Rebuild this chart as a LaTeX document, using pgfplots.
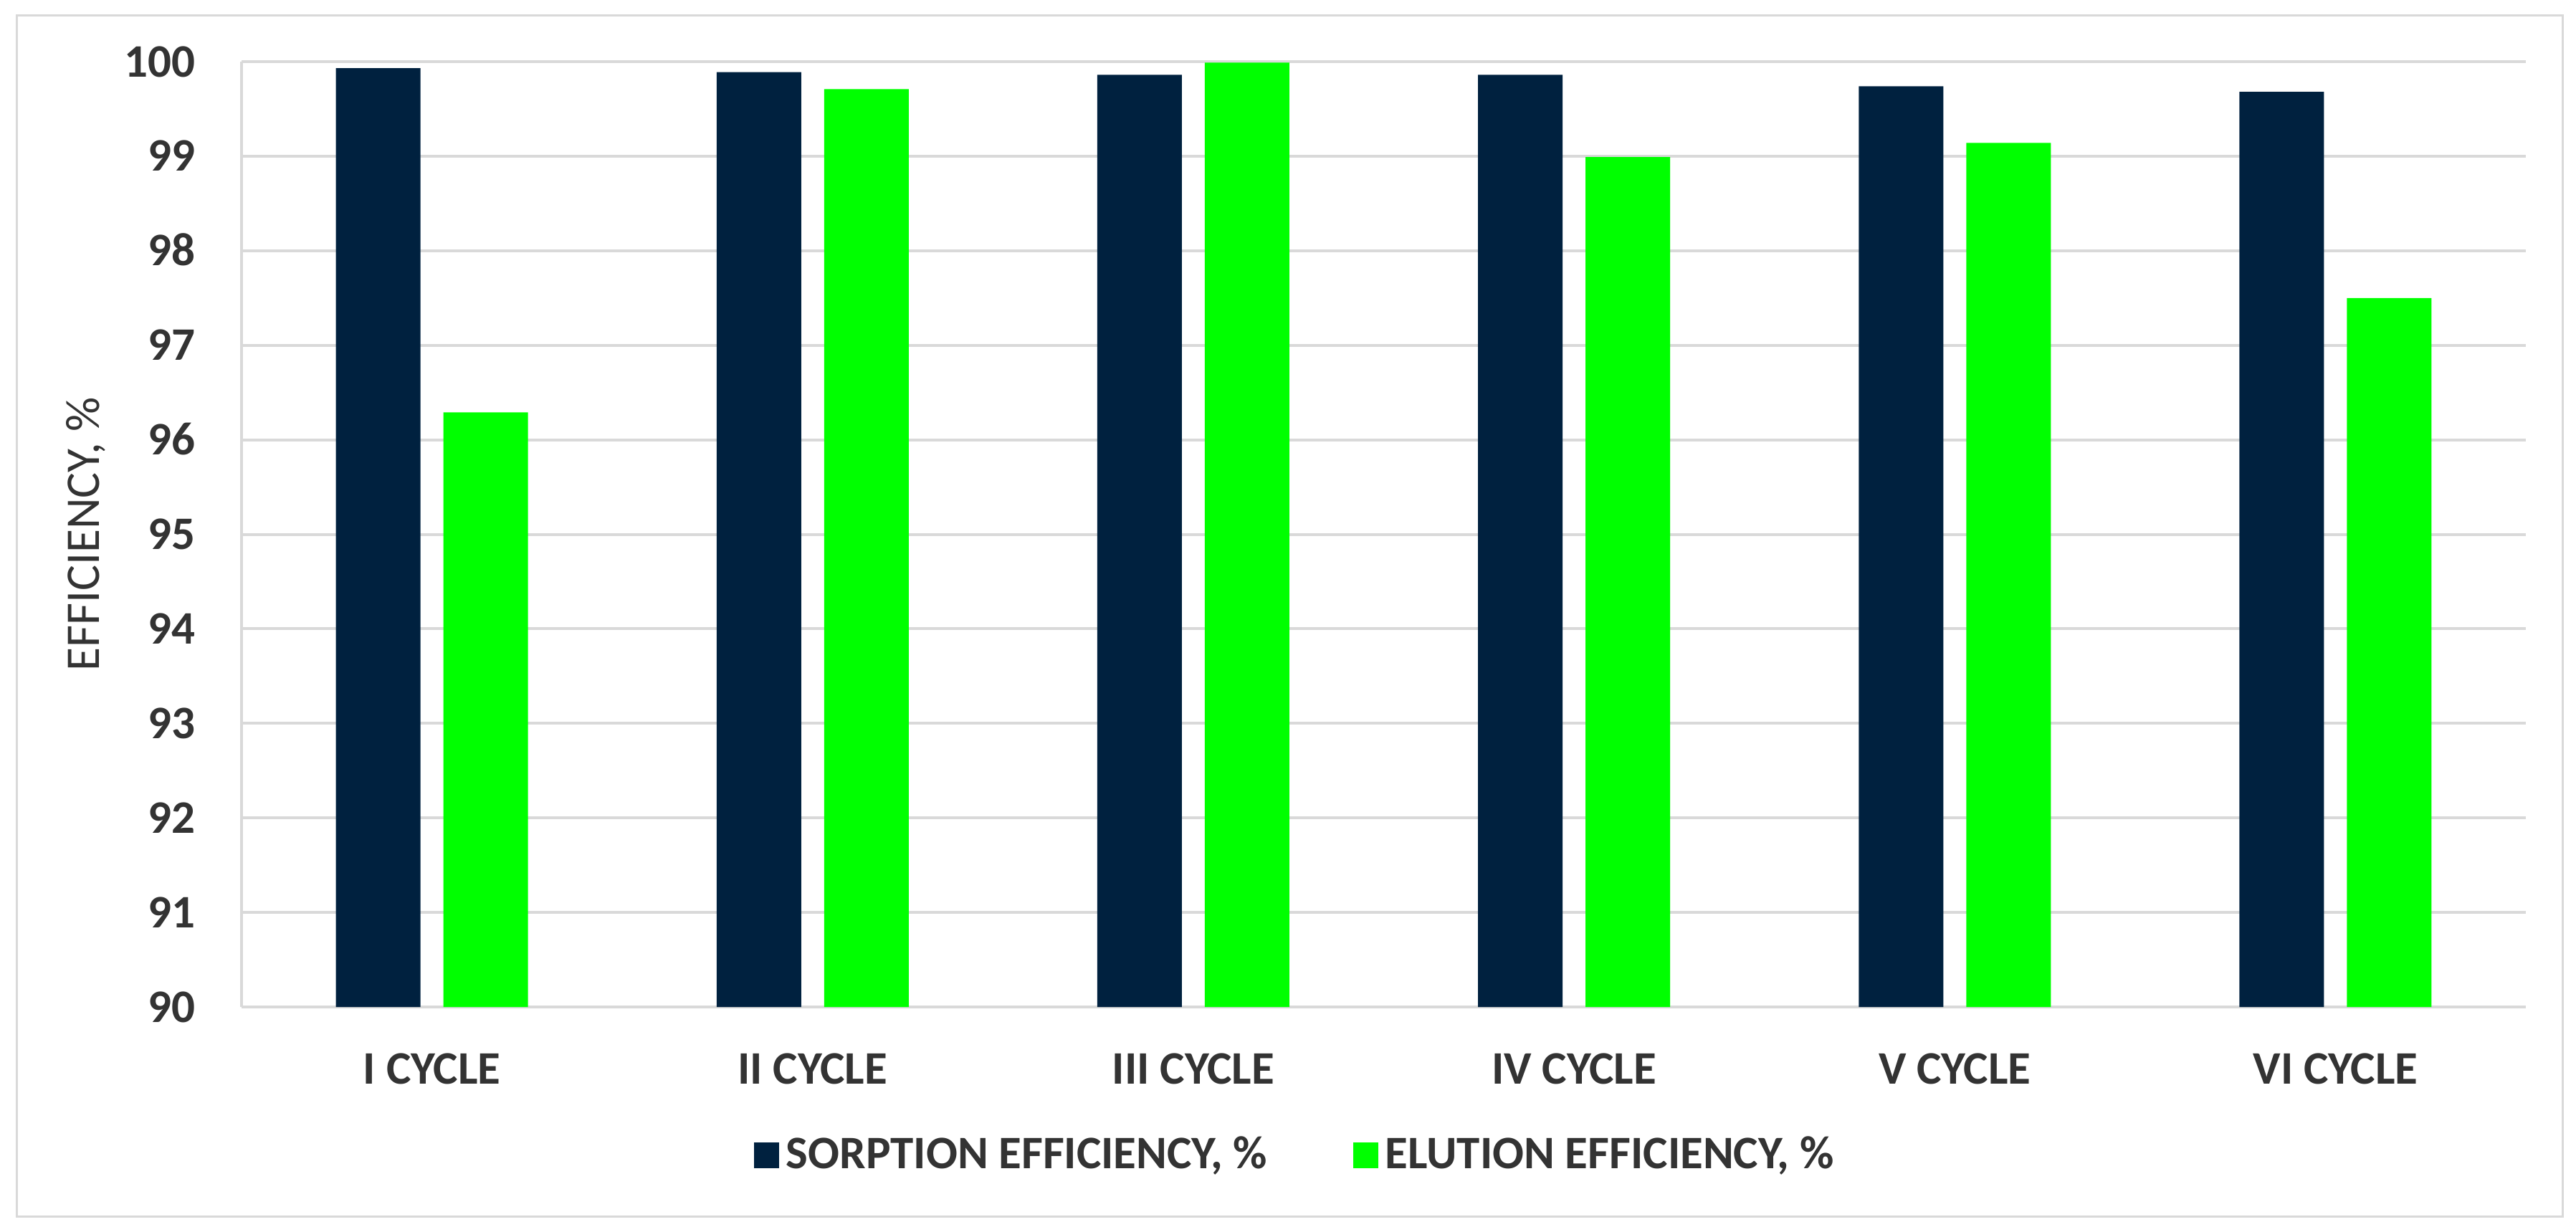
\documentclass[border=0pt]{standalone}
\usepackage{fontspec}
\setmainfont{Carlito}
\usepackage{pgfplots}
\pgfplotsset{compat=1.18}

\definecolor{sorp}{HTML}{00213F}
\definecolor{elut}{HTML}{00FF00}
\definecolor{gridc}{HTML}{D9D9D9}
\definecolor{txt}{HTML}{333333}

\begin{document}
\begin{tikzpicture}
  \useasboundingbox (0,0) rectangle (718.8pt,343.6pt);
  \draw[gridc, line width=0.6pt] (4.6pt,4.2pt) rectangle (715pt,339.2pt);
  \begin{axis}[
      at={(67.4pt,62.6pt)}, anchor=south west,
      width=637.4pt, height=263.8pt, scale only axis,
      ybar=6.4pt, bar width=23.6pt,
      xmin=-0.5, xmax=5.5,
      ymin=90, ymax=100,
      xtick=data,
      xticklabels={I CYCLE, II CYCLE, III CYCLE, IV CYCLE, V CYCLE, VI CYCLE},
      ytick={90,91,...,100},
      major tick length=0pt,
      axis x line*=bottom, axis y line*=left,
      axis line style={gridc, line width=0.8pt},
      ymajorgrids,
      major grid style={gridc, line width=0.8pt},
      /pgf/number format/assume math mode=true,
      tick label style={font=\fontsize{13}{15}\selectfont\bfseries, text=txt, inner sep=0pt},
      xticklabel style={anchor=base, yshift=-21.4pt},
      yticklabel style={anchor=base east, xshift=-12.8pt, yshift=-4.2pt},
      ylabel={EFFICIENCY, \%},
      ylabel style={at={(rel axis cs:-0.0681,0.5)}, anchor=center,
                    font=\fontsize{13.5}{15}\selectfont, text=txt},
      legend columns=2,
      legend style={at={(0.4622,-0.157)}, anchor=center, draw=none, fill=none,
                    font=\fontsize{13}{15}\selectfont\bfseries, text=txt,
                    inner sep=0pt,
                    /tikz/every even column/.append style={column sep=22pt}},
      legend image code/.code={\fill[#1] (0pt,-3.6pt) rectangle (7pt,3.6pt);},
    ]
    \addplot[fill=sorp, draw=none] coordinates {
      (0,99.93) (1,99.89) (2,99.86) (3,99.86) (4,99.74) (5,99.68)
    };
    \addplot[fill=elut, draw=none] coordinates {
      (0,96.29) (1,99.71) (2,99.99) (3,98.99) (4,99.14) (5,97.50)
    };
    \legend{{SORPTION EFFICIENCY, \%}, {ELUTION EFFICIENCY, \%}}
  \end{axis}
\end{tikzpicture}
\end{document}
